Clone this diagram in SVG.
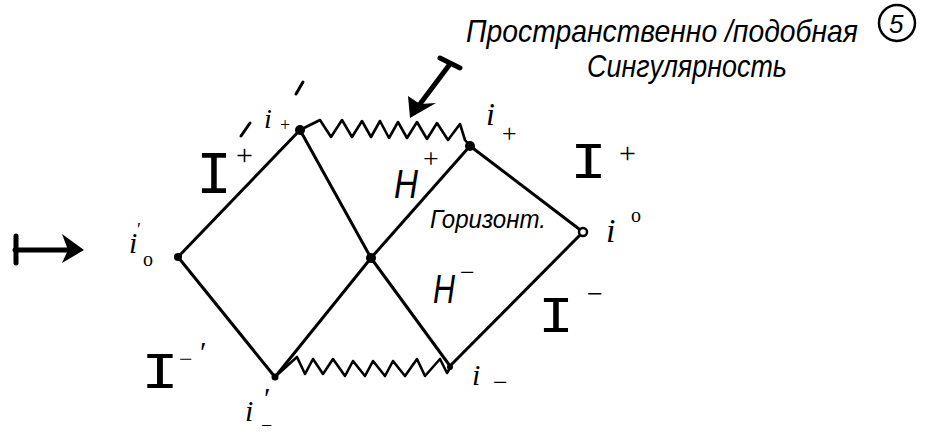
<svg xmlns="http://www.w3.org/2000/svg" width="934" height="436" viewBox="0 0 934 436">
<style>
.ln{stroke:#000;stroke-width:3;fill:none;stroke-linecap:round;stroke-linejoin:round}
.wv{stroke:#000;stroke-width:2.6;fill:none;stroke-linecap:round;stroke-linejoin:round}
.th{stroke:#000;stroke-width:5;fill:none;stroke-linecap:round;stroke-linejoin:round}
.t{font-family:"Liberation Serif",serif;fill:#000}
.m{font-family:"Liberation Mono",monospace;fill:#000}
.ti{font-family:"Liberation Serif",serif;font-style:italic;fill:#000}
.h{font-family:"Liberation Sans","DejaVu Sans",sans-serif;font-style:italic;fill:#000}
.dot{fill:#000}
</style>
<rect width="934" height="436" fill="#fff"/>
<g id="connectors">
<path class="ln" d="M300,130 L178,257"/>
<path class="ln" d="M178,257 L275,377"/>
<path class="ln" d="M300,130 L371,258 L450,366"/>
<path class="ln" d="M275,377 L371,258 L470,146"/>
<path class="ln" d="M470,146 L583,232 L450,366"/>
<path id="sing-top" class="wv" d="M300,130 L320,120 L331,137 L342,120 L352,137 L362,121 L371,137 L380,121 L389,138 L398,122 L407,138 L417,122 L427,139 L437,123 L448,140 L460,124 L465,140 L470,146"/>
<path id="sing-bottom" class="wv" d="M277,375 L297,357 L305,374 L313,359 L323,374 L333,359 L345,376 L353,361 L365,376 L373,361 L385,376 L393,361 L405,376 L417,359 L425,376 L440,359 L447,373 L450,368"/>
<g id="arrow-label">
<path class="th" d="M450,64 L414,112"/>
<path class="th" d="M440,58 L460,68"/>
<path class="dot" d="M410,118 L408,96 L420,104 L436,103 Z"/>
</g>
<g id="arrow-left">
<path class="th" d="M15,250 L72,250"/>
<path class="th" d="M16,236 L16,263"/>
<path class="dot" d="M62,234 L84,250 L62,263 L68,250 Z"/>
</g>
</g>
<g id="vertices">
<circle class="dot" cx="300" cy="130" r="5"/>
<circle class="dot" cx="470" cy="146" r="5"/>
<circle class="dot" cx="371" cy="258" r="5"/>
<circle class="dot" cx="178" cy="257" r="4"/>
<circle cx="583" cy="232" r="4" fill="#fff" stroke="#000" stroke-width="2.5"/>
<circle class="dot" cx="275" cy="377" r="3.5"/>
<circle class="dot" cx="450" cy="367" r="3"/>
</g>
<g id="label-title">
<text class="h" x="466" y="42" font-size="32" textLength="392" lengthAdjust="spacingAndGlyphs">Пространственно /подобная</text>
<text class="h" x="587" y="77" font-size="32" textLength="200" lengthAdjust="spacingAndGlyphs">Сингулярность</text>
<circle cx="897" cy="23" r="18" fill="none" stroke="#000" stroke-width="2.5"/>
<text class="h" x="889" y="33" font-size="26">5</text>
</g>
<g id="label-ip-plus">
<text class="ti" x="264" y="128" font-size="28">i</text>
<text class="t" x="280" y="131" font-size="18">+</text>
<path class="ln" d="M241,136 L250,123"/>
<path class="ln" d="M296,94 L303,82"/>
</g>
<g id="label-Iplus-left">
<text class="m" x="196" y="193" font-size="62" textLength="36" lengthAdjust="spacingAndGlyphs">I</text>
<text class="t" x="236" y="165" font-size="30">+</text>
</g>
<g id="label-Hplus">
<text class="h" x="394" y="198" font-size="40" textLength="24" lengthAdjust="spacingAndGlyphs">H</text>
<text class="t" x="423" y="168" font-size="28">+</text>
</g>
<g id="label-i-plus">
<text class="ti" x="486" y="125" font-size="32">i</text>
<text class="t" x="502" y="142" font-size="26">+</text>
</g>
<g id="label-Iplus-right">
<text class="m" x="570" y="178" font-size="52" textLength="37" lengthAdjust="spacingAndGlyphs">I</text>
<text class="t" x="619" y="163" font-size="30">+</text>
</g>
<g id="label-horizon">
<text class="h" x="430" y="228" font-size="26" textLength="116" lengthAdjust="spacingAndGlyphs">Горизонт.</text>
</g>
<g id="label-i0">
<text class="ti" x="606" y="242" font-size="34">i</text>
<text class="t" x="631" y="222" font-size="20">o</text>
</g>
<g id="label-ip0">
<text class="ti" x="129" y="253" font-size="30">i</text>
<text class="t" x="137" y="236" font-size="18">′</text>
<text class="t" x="143" y="266" font-size="20">o</text>
</g>
<g id="label-Hminus">
<text class="h" x="433" y="303" font-size="40" textLength="22" lengthAdjust="spacingAndGlyphs">H</text>
<text class="t" x="460" y="281" font-size="26">−</text>
</g>
<g id="label-Iminus-right">
<text class="m" x="538" y="332" font-size="52" textLength="36" lengthAdjust="spacingAndGlyphs">I</text>
<text class="t" x="587" y="303" font-size="28">−</text>
</g>
<g id="label-Iminus-left">
<text class="m" x="141" y="388" font-size="52" textLength="38" lengthAdjust="spacingAndGlyphs">I</text>
<text class="t" x="179" y="367" font-size="24">−</text>
<text class="t" x="200" y="362" font-size="30">′</text>
</g>
<g id="label-ip-minus">
<text class="ti" x="245" y="421" font-size="30">i</text>
<text class="t" x="264" y="408" font-size="30">′</text>
<text class="t" x="261" y="432" font-size="20">−</text>
</g>
<g id="label-i-minus">
<text class="ti" x="472" y="385" font-size="30">i</text>
<text class="t" x="493" y="391" font-size="26">−</text>
</g>
</svg>
